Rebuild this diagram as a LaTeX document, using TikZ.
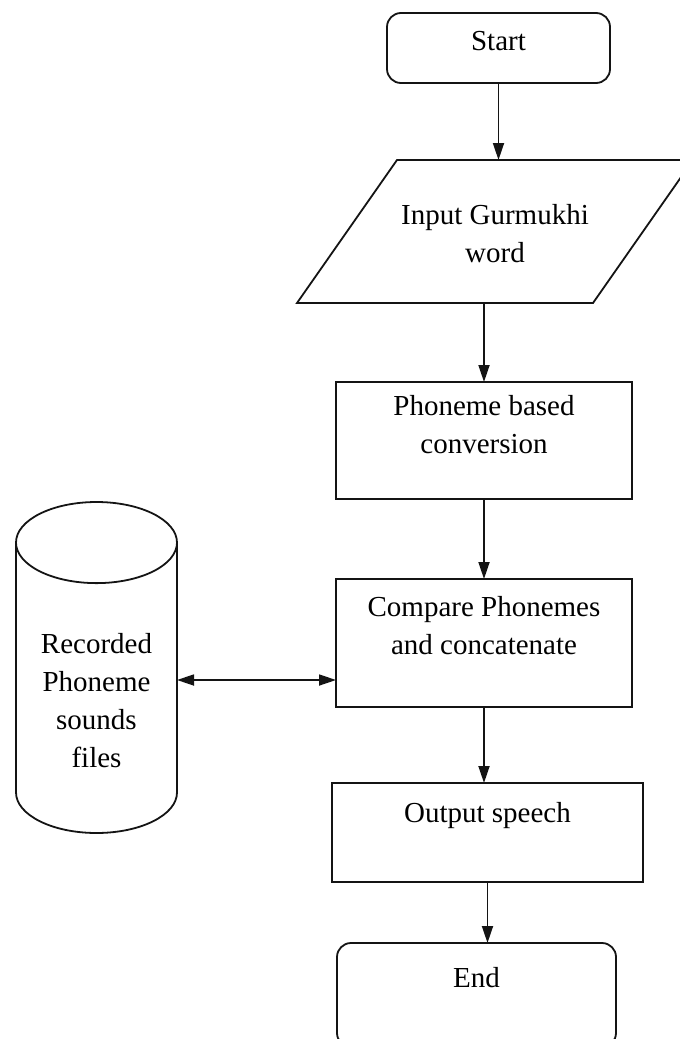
\documentclass[tikz,border=0pt]{standalone}
\usepackage{fontspec}
\setmainfont{Liberation Serif}
\usetikzlibrary{shapes.geometric, arrows.meta, positioning, calc}
\definecolor{linecolor}{RGB}{20, 20, 20}
\tikzset{
    stepbox/.style={
        rectangle,
        draw=linecolor,
        line width=0.9pt,
        inner sep=0pt,
        outer sep=0pt,
        align=center,
        font=\fontsize{14.5pt}{19pt}\selectfont,
        text height=18pt
    },
    terminal/.style={
        stepbox,
        rounded corners=7pt
    },
    storage/.style={
        cylinder,
        shape border rotate=90,
        aspect=0.73,
        draw=linecolor,
        line width=0.9pt,
        inner sep=0pt,
        outer sep=0pt,
        align=center,
        font=\fontsize{14.5pt}{19pt}\selectfont,
        minimum width=80.5pt,
        minimum height=165.5pt
    },
    arrow/.style={
        line width=0.9pt,
        -{Triangle[length=8.5pt,width=5.5pt]},
        color=linecolor
    },
    biarrow/.style={
        arrow,
        {Triangle[length=8.5pt,width=5.5pt]}-{Triangle[length=8.5pt,width=5.5pt]}
    }
}

\begin{document}
\begin{tikzpicture}
    \useasboundingbox (0,0) rectangle (340pt,-519.5pt);

    % Flow of the main steps
    \node (start) [terminal, minimum width=111.5pt, text height=18.5pt, text depth=16.5pt] at (249.25pt,-24pt) {Start};
    \node (input) [stepbox, draw=none, minimum width=198pt, text height=51pt, text depth=20.5pt,
        below=38.5pt of start, xshift=-1.75pt] {Input Gurmukhi\\word};
    \node (conv) [stepbox, minimum width=148pt, text height=35.5pt, text depth=23pt,
        below=39.5pt of input, xshift=-5.5pt] {Phoneme based\\conversion};
    \node (cmp) [stepbox, minimum width=148pt, text height=37.5pt, text depth=26.5pt,
        below=40pt of conv] {Compare Phonemes\\and concatenate};
    \node (out) [stepbox, minimum width=155.5pt, text height=19.5pt, text depth=30pt,
        below=38pt of cmp, xshift=1.75pt] {Output speech};
    \node (end) [terminal, minimum width=139.5pt, text height=22pt, text depth=30pt,
        below=30.5pt of out, xshift=-5.5pt] {End};

    % Input is a slanted box
    \draw [line width=0.9pt, draw=linecolor] (input.south west) -- ($(input.south east)+(-50pt,0)$)
        -- (input.north east) -- ($(input.north west)+(50pt,0)$) -- cycle;

    % Store of recorded sounds
    \node (db) [storage, text height=84.75pt, text depth=5.25pt, anchor=shape center]
        at ($(cmp.west)+(-119.75pt,-12.25pt)$) {Recorded\\Phoneme\\sounds\\files};
    \coordinate (link) at ($(cmp.west)+(0,-18.5pt)$);

    % Arrows
    \draw [arrow] (start.south) -- (start.south |- input.north);
    \draw [arrow] (input.south -| conv.north) -- (conv.north);
    \draw [arrow] (conv) -- (cmp);
    \draw [arrow] (cmp.south) -- (cmp.south |- out.north);
    \draw [arrow] (out.south) -- (out.south |- end.north);
    \draw [biarrow] (link -| db.east) -- (link);

\end{tikzpicture}
\end{document}
